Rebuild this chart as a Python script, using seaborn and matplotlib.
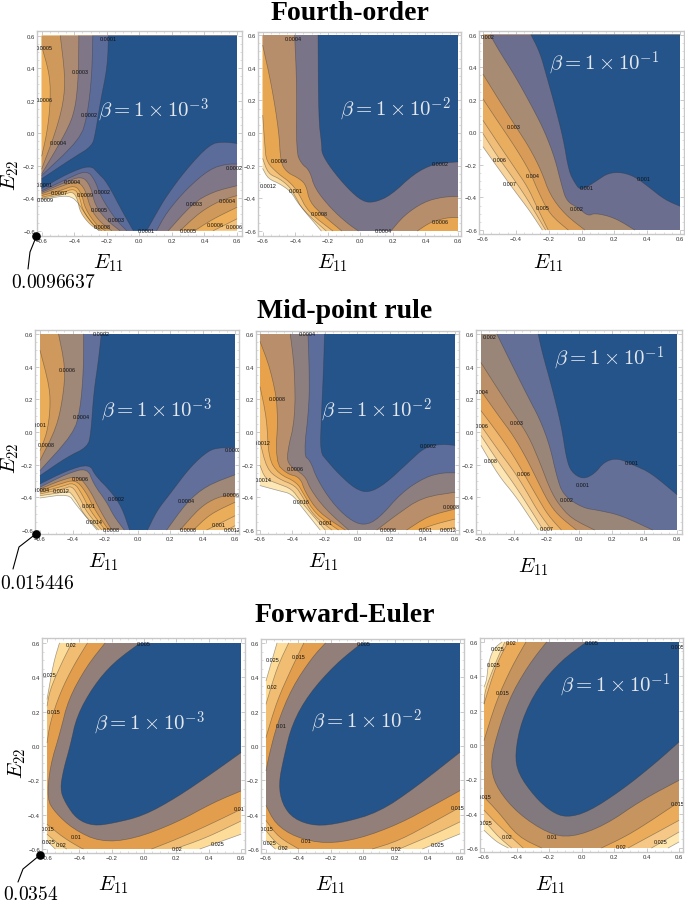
import numpy as np
import pandas as pd
import matplotlib.pyplot as plt
import seaborn as sns

# contour outlines, in (E11, E22)
# each panel = list of levels from the inside out, each level = list of curves walking round the region
# a one point curve is only a corner of the box, no line is drawn for it
TR = [(0.6, 0.6)]
TL = [(-0.6, 0.6)]
BR = [(0.6, -0.6)]

fourth_1 = [
    [[(-.19,.6),(-.196,.41),(-.24,.19),(-.27,0),(-.29,-.08),(-.405,-.15),(-.6,-.28)],
     [(-.6,-.34),(-.445,-.25),(-.30,-.195),(-.25,-.25),(-.20,-.30),(-.10,-.49),(-.037,-.6)],
     [(.045,-.6),(.106,-.49),(.168,-.385),(.29,-.22),(.433,-.067),(.515,-.053),(.6,-.063)], TR],
    [[(-.286,.6),(-.292,.35),(-.32,.106),(-.364,-.037),(-.6,-.26)],
     [(-.6,-.355),(-.445,-.282),(-.323,-.227),(-.272,-.29),(-.24,-.385),(-.15,-.527),(-.078,-.6)],
     [(.106,-.6),(.168,-.487),(.29,-.343),(.433,-.22),(.535,-.19),(.6,-.19)], TR],
    [[(-.372,.6),(-.374,.35),(-.394,.147),(-.445,.014),(-.6,-.25)],
     [(-.6,-.364),(-.466,-.307),(-.354,-.262),(-.30,-.323),(-.272,-.446),(-.2,-.537),(-.119,-.6)],
     [(.178,-.6),(.33,-.43),(.454,-.36),(.6,-.323)], TR],
    [[(-.486,.6),(-.456,.35),(-.466,.188),(-.517,0),(-.6,-.22)],
     [(-.6,-.373),(-.497,-.333),(-.384,-.292),(-.333,-.343),(-.30,-.466),(-.24,-.548),(-.17,-.6)],
     [(.25,-.6),(.372,-.486),(.495,-.415),(.6,-.384)], TR],
    [[(-.6,.535),(-.548,.35),(-.548,.167),(-.568,0),(-.6,-.14)],
     [(-.6,-.384),(-.487,-.354),(-.395,-.319),(-.354,-.374),(-.333,-.466),(-.262,-.568),(-.21,-.6)],
     [(.34,-.6),(.454,-.527),(.6,-.456)], TR, TL],
    [[(-.6,-.394),(-.477,-.368),(-.40,-.339),(-.368,-.388),(-.348,-.476),(-.28,-.568),(-.231,-.6)],
     [(.454,-.6),(.6,-.527)], TR, TL],
    [[(-.6,-.401),(-.466,-.378),(-.409,-.359),(-.38,-.405),(-.364,-.487),(-.30,-.568),(-.241,-.6)], BR, TR, TL],
    [[(-.6,-.411),(-.527,-.395),(-.435,-.384),(-.384,-.415),(-.313,-.527),(-.25,-.6)], BR, TR, TL],
]
fourth_2 = [
    [[(-.26,.6),(-.257,.088),(-.237,-.075),(-.237,-.126),(-.18,-.218),(-.078,-.34),(.014,-.42),(.086,-.426),
      (.188,-.381),(.33,-.249),(.453,-.188),(.6,-.177)], TR],
    [[(-.404,.6),(-.39,.29),(-.394,-.116),(-.363,-.188),(-.312,-.228),(-.28,-.34),(-.18,-.463),(-.078,-.555),(-.012,-.6)],
     [(.188,-.6),(.269,-.504),(.39,-.422),(.504,-.392),(.6,-.388)], TR],
    [[(-.6,.537),(-.545,.29),(-.50,.006),(-.49,-.177),(-.455,-.239),(-.373,-.28),(-.333,-.32),(-.312,-.422),(-.23,-.504),(-.114,-.6)],
     [(.35,-.6),(.432,-.545),(.534,-.518),(.6,-.518)], TR, TL],
    [[(-.6,.108),(-.587,-.075),(-.577,-.177),(-.506,-.249),(-.434,-.30),(-.383,-.361),(-.322,-.483),(-.169,-.6)], BR, TR, TL],
    [[(-.6,-.157),(-.567,-.249),(-.496,-.28),(-.434,-.33),(-.404,-.381),(-.353,-.473),(-.21,-.6)], BR, TR, TL],
    [[(-.6,-.218),(-.567,-.28),(-.496,-.31),(-.424,-.361),(-.383,-.432),(-.24,-.6)], BR, TR, TL],
]
fourth_3 = [
    [[(-.308,.6),(-.253,.49),(-.213,.347),(-.162,.164),(-.111,-.039),(-.077,-.241),(-.04,-.312),(-.01,-.353),(.04,-.332),
      (.10,-.292),(.162,-.251),(.243,-.245),(.324,-.272),(.405,-.332),(.507,-.414),(.6,-.454)], TR],
    [[(-.557,.6),(-.507,.509),(-.405,.347),(-.294,.144),(-.223,.002),(-.162,-.16),(-.122,-.322),(-.091,-.424),(-.02,-.464),
      (.041,-.515),(.081,-.495),(.203,-.525),(.324,-.6)], BR, TR],
    [[(-.6,.357),(-.507,.205),(-.405,.043),(-.314,-.099),(-.243,-.241),(-.193,-.383),(-.101,-.505),(.02,-.6)], BR, TR, TL],
    [[(-.6,.205),(-.507,.063),(-.405,-.089),(-.314,-.241),(-.264,-.363),(-.193,-.505),(-.081,-.6)], BR, TR, TL],
    [[(-.6,.073),(-.507,-.069),(-.405,-.221),(-.324,-.343),(-.274,-.454),(-.203,-.6)], BR, TR, TL],
    [[(-.6,-.008),(-.517,-.14),(-.416,-.282),(-.334,-.403),(-.219,-.6)], BR, TR, TL],
    [[(-.6,-.089),(-.507,-.221),(-.405,-.363),(-.314,-.484),(-.239,-.6)], BR, TR, TL],
]
mid_1 = [
    [[(-.223,.6),(-.24,.44),(-.27,.236),(-.287,-.01),(-.307,-.092),(-.435,-.154),(-.6,-.267)],
     [(-.6,-.318),(-.435,-.236),(-.295,-.195),(-.26,-.267),(-.168,-.359),(-.096,-.461),(-.049,-.6)],
     [(.062,-.6),(.119,-.482),(.20,-.379),(.324,-.215),(.437,-.113),(.508,-.096),(.6,-.096)], TR],
    [[(-.332,.6),(-.332,.379),(-.353,.133),(-.394,-.01),(-.6,-.236)],
     [(-.6,-.338),(-.435,-.256),(-.308,-.219),(-.271,-.318),(-.189,-.43),(-.148,-.512),(-.082,-.6)],
     [(.18,-.6),(.303,-.43),(.426,-.328),(.6,-.262)], TR],
    [[(-.486,.6),(-.445,.40),(-.455,.236),(-.496,.03),(-.6,-.174)],
     [(-.6,-.349),(-.476,-.297),(-.363,-.267),(-.291,-.359),(-.23,-.482),(-.158,-.6)],
     [(.262,-.6),(.385,-.461),(.488,-.40),(.6,-.379)], TR],
    [[(-.6,.50),(-.541,.277),(-.537,.133),(-.558,-.01),(-.6,-.113)],
     [(-.6,-.359),(-.476,-.318),(-.383,-.291),(-.322,-.359),(-.26,-.482),(-.178,-.6)],
     [(.344,-.6),(.447,-.502),(.6,-.43)], TR, TL],
    [[(-.6,-.369),(-.467,-.334),(-.39,-.308),(-.342,-.379),(-.291,-.482),(-.199,-.6)],
     [(.426,-.6),(.6,-.513)], TR, TL],
    [[(-.6,-.379),(-.455,-.349),(-.404,-.328),(-.357,-.40),(-.312,-.492),(-.219,-.6)],
     [(.55,-.6),(.6,-.574)], TR, TL],
    [[(-.6,-.39),(-.455,-.369),(-.42,-.359),(-.369,-.43),(-.332,-.502),(-.24,-.6)], BR, TR, TL],
    [[(-.6,-.404),(-.424,-.379),(-.383,-.44),(-.25,-.6)], BR, TR, TL],
]
mid_2 = [
    [[(-.203,.6),(-.209,.39),(-.223,.082),(-.23,-.123),(-.189,-.174),(-.117,-.256),(-.014,-.349),(.068,-.373),(.17,-.318),
      (.314,-.185),(.416,-.092),(.519,-.074),(.6,-.082)], TR],
    [[(-.305,.6),(-.297,.39),(-.297,.164),(-.332,-.144),(-.291,-.174),(-.25,-.287),(-.158,-.43),(-.055,-.533),(.037,-.574),
      (.129,-.533),(.273,-.369),(.416,-.277),(.519,-.25),(.6,-.25)], TR],
    [[(-.414,.6),(-.387,.39),(-.383,.082),(-.435,-.133),(-.424,-.205),(-.322,-.267),(-.291,-.349),(-.199,-.472),(-.055,-.6)],
     [(.119,-.6),(.232,-.513),(.396,-.40),(.6,-.369)], TR],
    [[(-.6,.554),(-.537,.39),(-.486,.144),(-.506,-.185),(-.435,-.256),(-.353,-.277),(-.322,-.369),(-.24,-.492),(-.076,-.6)],
     [(.303,-.6),(.437,-.513),(.6,-.472)], TR, TL],
    [[(-.6,.277),(-.558,.082),(-.547,-.164),(-.486,-.256),(-.373,-.308),(-.332,-.379),(-.26,-.502),(-.117,-.6)],
     [(.375,-.6),(.478,-.564),(.6,-.533)], TR, TL],
    [[(-.6,-.062),(-.558,-.226),(-.486,-.287),(-.383,-.328),(-.342,-.39),(-.27,-.513),(-.158,-.6)],
     [(.519,-.6),(.6,-.584)], TR, TL],
    [[(-.6,-.205),(-.568,-.287),(-.486,-.318),(-.404,-.349),(-.353,-.42),(-.199,-.6)], BR, TR, TL],
    [[(-.6,-.328),(-.486,-.359),(-.404,-.379),(-.342,-.461),(-.23,-.6)], BR, TR, TL],
]
mid_3 = [
    [[(-.25,.6),(-.225,.485),(-.168,.282),(-.108,.039),(-.077,-.164),(-.047,-.246),(.024,-.29),(.095,-.256),(.156,-.181),
      (.238,-.16),(.339,-.205),(.44,-.25),(.6,-.384)], TR],
    [[(-.503,.6),(-.432,.455),(-.31,.211),(-.24,.079),(-.179,-.083),(-.138,-.266),(-.097,-.388),(.024,-.465),(.116,-.479),
      (.258,-.51),(.45,-.6)], BR, TR],
    [[(-.6,.424),(-.503,.272),(-.392,.10),(-.31,-.022),(-.24,-.185),(-.179,-.347),(-.128,-.438),(-.047,-.53),(.095,-.6)], BR, TR, TL],
    [[(-.6,.252),(-.493,.10),(-.402,-.022),(-.32,-.164),(-.26,-.286),(-.189,-.428),(-.128,-.51),(-.016,-.6)], BR, TR, TL],
    [[(-.6,.13),(-.493,-.012),(-.402,-.144),(-.32,-.286),(-.25,-.408),(-.189,-.51),(-.108,-.6)], BR, TR, TL],
    [[(-.6,.039),(-.493,-.114),(-.402,-.235),(-.331,-.347),(-.25,-.489),(-.168,-.6)], BR, TR, TL],
    [[(-.6,-.022),(-.493,-.185),(-.392,-.327),(-.30,-.469),(-.219,-.6)], BR, TR, TL],
    [[(-.6,-.083),(-.493,-.266),(-.392,-.388),(-.31,-.51),(-.25,-.6)], BR, TR, TL],
]
euler_1 = [
    [[(-.025,.6),(-.19,.485),(-.313,.349),(-.416,.175),(-.457,0),(-.498,-.136),(-.519,-.252),(-.488,-.33),(-.416,-.427),
      (-.313,-.466),(-.19,-.45),(-.004,-.407),(.202,-.30),(.428,-.155),(.6,-.039)], TR],
    [[(-.241,.6),(-.354,.466),(-.468,.272),(-.519,.078),(-.581,-.116),(-.6,-.31),(-.549,-.388),(-.437,-.485),(-.272,-.559),
      (-.066,-.543),(.202,-.446),(.428,-.33),(.6,-.262)], TR],
    [[(-.35,.6),(-.437,.466),(-.519,.31),(-.581,.136),(-.6,.019)],
     [(-.6,-.456),(-.498,-.534),(-.395,-.592),(-.375,-.6)],
     [(.047,-.6),(.202,-.543),(.387,-.466),(.6,-.369)], TR],
    [[(-.447,.6),(-.509,.485),(-.581,.33),(-.6,.233)],
     [(-.6,-.514),(-.529,-.572),(-.478,-.6)],
     [(.19,-.6),(.387,-.534),(.6,-.437)], TR],
    [[(-.523,.6),(-.56,.485),(-.6,.272)],
     [(-.6,-.553),(-.549,-.6)],
     [(.346,-.6),(.6,-.514)], TR],
]
euler_2 = [
    [[(-.008,.6),(-.17,.477),(-.335,.303),(-.439,.128),(-.49,-.066),(-.522,-.221),(-.50,-.338),(-.43,-.425),(-.294,-.468),
      (-.128,-.448),(.099,-.386),(.327,-.24),(.6,-.037)], TR],
    [[(-.232,.6),(-.315,.516),(-.439,.341),(-.532,.128),(-.584,-.066),(-.6,-.144)],
     [(-.6,-.347),(-.542,-.454),(-.418,-.532),(-.232,-.57),(-.025,-.541),(.224,-.454),(.451,-.338),(.6,-.26)], TR],
    [[(-.366,.6),(-.439,.458),(-.532,.264),(-.6,.05)],
     [(-.6,-.435),(-.522,-.532),(-.397,-.6)],
     [(.058,-.6),(.224,-.551),(.451,-.435),(.6,-.357)], TR],
    [[(-.46,.6),(-.532,.458),(-.6,.244)],
     [(-.6,-.493),(-.542,-.561),(-.48,-.6)],
     [(.224,-.6),(.451,-.51),(.6,-.442)], TR],
    [[(-.532,.6),(-.6,.38)],
     [(-.6,-.551),(-.542,-.6)],
     [(.368,-.6),(.6,-.512)], TR],
]
euler_3 = [
    [[(.03,.6),(-.123,.493),(-.267,.338),(-.369,.144),(-.41,-.05),(-.39,-.167),(-.287,-.303),(-.185,-.39),(-.092,-.423),
      (.041,-.39),(.246,-.264),(.451,-.109),(.6,.017)], TR],
    [[(-.215,.6),(-.328,.464),(-.451,.26),(-.543,-.012),(-.558,-.147),(-.512,-.264),(-.39,-.40),(-.205,-.516),(-.062,-.539),
      (.144,-.468),(.369,-.322),(.6,-.206)], TR],
    [[(-.342,.6),(-.43,.454),(-.523,.26),(-.6,.027)],
     [(-.6,-.303),(-.512,-.39),(-.39,-.535),(-.246,-.6)],
     [(.123,-.6),(.308,-.516),(.6,-.332)], TR],
    [[(-.451,.6),(-.523,.473),(-.6,.24)],
     [(-.6,-.38),(-.512,-.468),(-.359,-.6)],
     [(.287,-.6),(.451,-.516),(.6,-.439)], TR],
    [[(-.472,.6),(-.523,.493),(-.595,.318),(-.6,.24)],
     [(-.6,-.438),(-.512,-.535),(-.43,-.6)],
     [(.431,-.6),(.6,-.507)], TR],
    [[(-.49,.6),(-.543,.56),(-.574,.473),(-.584,.376),(-.6,.338)],
     [(-.6,-.497),(-.523,-.565),(-.451,-.6)],
     [(.533,-.6),(.6,-.565)], TR],
]

# contour labels
labels_f1 = [("0.0001",-.19,.585),("0.0005",-.585,.525),("0.0003",-.363,.38),("0.0006",-.585,.21),("0.0002",-.31,.116),
             ("0.0004",-.50,-.057),("0.0001",-.585,-.313),("0.0004",-.41,-.30),("0.0007",-.49,-.364),("0.0009",-.578,-.405),
             ("0.0009",-.333,-.38),("0.0002",-.227,-.357),("0.0005",-.245,-.472),("0.0003",-.139,-.53),("0.0008",-.231,-.572),
             ("0.0001",.04,-.6),("0.0003",.335,-.435),("0.0005",.30,-.6),("0.0006",.464,-.564),("0.0004",.54,-.413),
             ("0.0002",.585,-.212),("0.0006",.585,-.572)]
labels_f2 = [("0.0004",-.41,.578),("0.0006",-.496,-.17),("0.0012",-.567,-.32),("0.001",-.40,-.353),("0.0008",-.255,-.494),
             ("0.0004",.14,-.598),("0.0002",.49,-.188),("0.0006",.49,-.539)]
labels_f3 = [("0.002",-.572,.587),("0.003",-.414,.035),("0.006",-.50,-.168),("0.007",-.44,-.313),("0.004",-.298,-.266),
             ("0.005",-.237,-.459),("0.002",-.032,-.465),("0.001",.03,-.339),("0.001",.38,-.284)]
labels_m1 = [("0.0002",-.225,.6),("0.0006",-.435,.383),("0.0004",-.344,.096),("0.001",-.6,.047),("0.0008",-.564,-.076),
             ("0.0006",-.355,-.283),("0.0004",-.595,-.35),("0.0012",-.47,-.36),("0.0002",-.131,-.41),("0.001",-.30,-.447),
             ("0.0014",-.266,-.55),("0.0008",-.162,-.6),("0.0008",.31,-.6),("0.0004",.303,-.422),("0.001",.498,-.568),
             ("0.0012",.58,-.595),("0.0006",.574,-.38),("0.0002",.59,-.107)]
labels_m2 = [("0.0004",-.307,.6),("0.0008",-.492,.203),("0.0012",-.584,-.062),("0.0006",-.383,-.226),("0.0014",-.578,-.291),
             ("0.0016",-.348,-.428),("0.001",-.193,-.553),("0.0006",.187,-.6),("0.001",.42,-.6),("0.0012",.56,-.6),
             ("0.0008",.58,-.459),("0.0002",.433,-.084)]
labels_m3 = [("0.002",-.544,.587),("0.004",-.595,.25),("0.003",-.382,.057),("0.006",-.595,.039),("0.008",-.542,-.173),
             ("0.006",-.337,-.252),("0.001",.02,-.32),("0.001",.32,-.185),("0.002",-.073,-.416),("0.007",-.195,-.59)]
labels_e1 = [("0.02",-.451,.592),("0.005",0,.596),("0.025",-.581,.415),("0.015",-.556,.202),("0.01",.588,-.363),
             ("0.015",-.597,-.483),("0.01",-.422,-.528),("0.025",-.591,-.557),("0.02",-.515,-.572),("0.02",.202,-.6),
             ("0.025",.453,-.566)]
labels_e2 = [("0.005",.006,.598),("0.015",-.40,.524),("0.025",-.557,.504),("0.02",-.561,.347),("0.01",-.507,.122),
             ("0.015",-.594,-.479),("0.01",-.352,-.553),("0.025",-.578,-.563),("0.02",-.493,-.59),("0.02",.205,-.6),
             ("0.025",.462,-.574),("0.015",.586,-.359)]
labels_e3 = [("0.02",-.43,.598),("0.005",.06,.596),("0.005",.59,.576),("0.025",-.517,.563),("0.025",-.543,.468),
             ("0.015",-.484,.305),("0.015",-.595,-.30),("0.025",-.588,-.452),("0.02",-.455,-.532),("0.01",-.182,-.535),
             ("0.02",.242,-.594),("0.025",.486,-.563),("0.015",.59,-.343)]

titles = ["Fourth-order", "Mid-point rule", "Forward-Euler"]
betas = [r"$\beta = 1 \times 10^{-3}$", r"$\beta = 1 \times 10^{-2}$", r"$\beta = 1 \times 10^{-1}$"]
min_values = ["0.0096637", "0.015446", "0.0354"]
tick_values = [-0.6, -0.4, -0.2, 0.0, 0.2, 0.4, 0.6]

# band colours, same order as the levels
BLUE = "#25548A"
c_f1 = [BLUE, "#5B6B9A", "#7F7687", "#AC8B72", "#CF995C", "#EDAF5A", "#F3C27A", "#FDEBBB"]
c_f2 = [BLUE, "#7A7488", "#B78E6C", "#E7A652", "#F4C27A", "#FADDA5"]
c_f3 = [BLUE, "#6C6E8F", "#A88B73", "#D99C58", "#E9AD60", "#F1BE7A", "#F8D49B"]
c_m1 = [BLUE, "#616F9A", "#9F8877", "#CF985C", "#EAAD59", "#F1BC72", "#F6CF90", "#FDEDC0"]
c_m2 = [BLUE, "#5D6D9B", "#8D7F80", "#B98F6B", "#E7A24B", "#F1B96D", "#F6CC8C", "#FDE7B4"]
c_m3 = [BLUE, "#646F97", "#9A8579", "#BB9068", "#E3A256", "#F0B76F", "#F6CC8E", "#FDE5B4"]
c_e = [BLUE, "#937F79", "#E29E4D", "#F1BD73", "#FDDC99"]
c_e3 = [BLUE, "#82797F", "#C5945F", "#EAAB5B", "#F5C887", "#FFE7B0"]

sns.set_theme(style="white")
plt.rcParams["mathtext.fontset"] = "cm"
plt.rcParams["font.family"] = ["Liberation Sans", "DejaVu Sans"]

W, H = 685, 904
fig = plt.figure(figsize=(W / 100, H / 100), dpi=100, facecolor="white")


def rounded(curve, rounds=2):
    pts = np.array(curve, dtype=float)
    if len(pts) < 3:
        return pts
    for _ in range(rounds):
        q = pts[:-1] * 0.75 + pts[1:] * 0.25
        r = pts[:-1] * 0.25 + pts[1:] * 0.75
        mid = np.empty((len(q) * 2, 2))
        mid[0::2] = q
        mid[1::2] = r
        pts = np.vstack([pts[0], mid[1:-1], pts[-1]])
    return pts


# frame (left, right, top, bottom) and where -0.6/0.6 sit, both in pixels
panels = [
    (fourth_1, c_f1, labels_f1, (37, 242, 32, 237), (41.7, 237, 36.7, 231.7)),
    (fourth_2, c_f2, labels_f2, (258, 461, 33, 237), (262.7, 458, 36, 232)),
    (fourth_3, c_f3, labels_f3, (479, 684, 32, 235), (483, 680, 35.7, 231)),
    (mid_1, c_m1, labels_m1, (35, 239, 331, 535), (40, 235, 335, 531)),
    (mid_2, c_m2, labels_m2, (256, 459, 332, 535), (260, 455, 335, 531)),
    (mid_3, c_m3, labels_m3, (476, 682, 331, 535), (481, 677, 335, 531)),
    (euler_1, c_e, labels_e1, (42, 245, 639, 854), (47, 241, 644, 850)),
    (euler_2, c_e, labels_e2, (261, 464, 640, 854), (266, 460, 644, 850)),
    (euler_3, c_e3, labels_e3, (480, 683, 639, 853), (484, 679, 643, 849)),
]

for levels, colors, labs, frame, box in panels:
    l, r, t, b = frame
    dl, dr, dt, db = box
    ax = fig.add_axes([l / W, 1 - b / H, (r - l) / W, (b - t) / H])
    rows = []
    seg = 0
    smooth = [[rounded(c) for c in level] for level in levels]
    # outermost level first, the blue one ends on top
    for level, col in list(zip(smooth, colors))[::-1]:
        pts = np.vstack(level)
        ax.fill(pts[:, 0], pts[:, 1], color=col, lw=0, zorder=1)
        for curve in level:
            if len(curve) < 2:
                continue
            seg += 1
            rows += [(seg, p[0], p[1]) for p in curve]
    lines = pd.DataFrame(rows, columns=["seg", "x", "y"])
    sns.lineplot(data=lines, x="x", y="y", units="seg", estimator=None, sort=False, color="#333333",
                 lw=0.5, alpha=0.45, legend=False, ax=ax, zorder=2)
    for txt, x, y in labs:
        ax.text(x, y, txt, fontsize=3.9, color="#111111", ha="center", va="center", clip_on=True, zorder=3)

    sx = 1.2 / (dr - dl)
    sy = 1.2 / (db - dt)
    ax.set_xlim(-0.6 - (dl - l) * sx, 0.6 + (r - dr) * sx)
    ax.set_ylim(-0.6 - (b - db) * sy, 0.6 + (dt - t) * sy)
    ax.set_xlabel("")
    ax.set_ylabel("")
    ax.set_xticks(tick_values)
    ax.set_yticks(tick_values)
    ax.set_xticklabels(["%.1f" % v if v >= 0 else "\u2212%.1f" % -v for v in tick_values])
    ax.set_yticklabels(["%.1f" % v if v >= 0 else "\u2212%.1f" % -v for v in tick_values])
    ax.set_xticks(np.arange(-0.6, 0.61, 0.05), minor=True)
    ax.set_yticks(np.arange(-0.6, 0.61, 0.05), minor=True)
    ax.tick_params(which="major", direction="in", length=2.6, width=0.5, color="#b5b5b5", labelsize=4.3,
                   labelcolor="#333333", pad=1.5, top=True, right=True, bottom=True, left=True)
    ax.tick_params(which="minor", direction="in", length=1.4, width=0.4, color="#c4c4c4",
                   top=True, right=True, bottom=True, left=True)
    for s in ax.spines.values():
        s.set_color("#c8c8c8")
        s.set_linewidth(1.0)

# everything else sits in pixel coordinates on one overlay
over = fig.add_axes([0, 0, 1, 1], zorder=10)
over.set_xlim(0, W)
over.set_ylim(H, 0)
over.axis("off")
over.patch.set_alpha(0)

title_pos = [(350, 13), (345, 312), (345, 616)]
for txt, (x, y) in zip(titles, title_pos):
    over.text(x, y, txt, family="Liberation Serif", fontweight="bold", fontsize=20, color="black", ha="center", va="center")

beta_pos = [(153, 110), (395, 109), (604, 63), (156, 410), (376, 410), (609, 358), (149, 723), (366, 721), (615, 685)]
for i, (x, y) in enumerate(beta_pos):
    over.text(x, y, betas[i % 3], fontsize=15, color="#E4E8EE", ha="center", va="center")

for x, y in [(108, 263), (332, 263), (548, 263), (103, 562), (323, 562), (533, 567), (113, 885), (330, 885), (550, 885)]:
    over.text(x, y, r"$E_{11}$", fontsize=15, color="black", ha="center", va="center")
for x, y in [(10, 175), (10, 458), (17, 763)]:
    over.text(x, y, r"$E_{22}$", fontsize=15, color="black", ha="center", va="center", rotation=90)

# minimum markers with leader lines
leaders = [
    ([36.5, 30, 28], [237, 253, 270], (53, 283)),
    ([35.7, 19, 13], [535, 548, 570], (37, 584)),
    ([40, 23, 18], [856, 870, 883], (31, 895)),
]
for val, (lx, ly, tp) in zip(min_values, leaders):
    over.plot(lx, ly, color="black", lw=0.8)
    over.plot(lx[0], ly[0], "o", color="black", ms=5.2)
    over.text(tp[0], tp[1], "$%s$" % val, fontsize=14, color="black", ha="center", va="center")

fig.savefig("out.png", dpi=100)
